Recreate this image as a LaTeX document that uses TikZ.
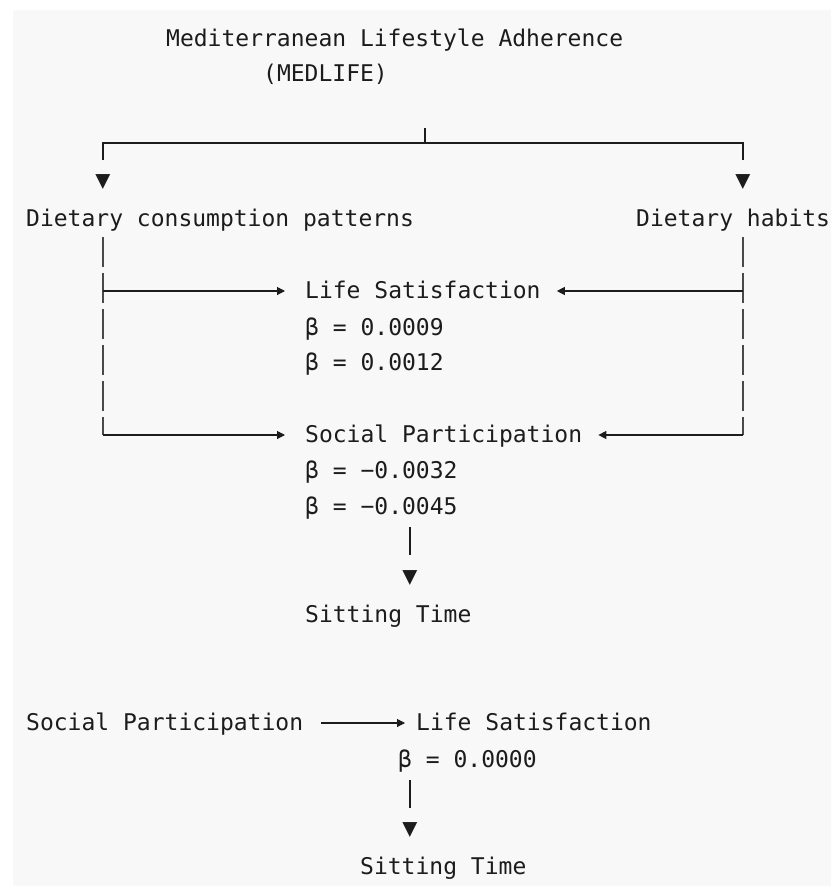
\documentclass[tikz,border=0pt]{standalone}
\usepackage{fontspec}
\setmonofont{DejaVu Sans Mono}
\usetikzlibrary{arrows.meta}
\usepackage{xcolor}
\definecolor{ink}{HTML}{1C1C1C}
\definecolor{paper}{HTML}{F8F8F8}

\begin{document}
\begin{tikzpicture}[x=1pt,y=-1pt,>={Triangle[length=8pt,width=8pt]},
  txt/.style={anchor=base west,inner sep=0pt,text=ink,
    font=\ttfamily\fontsize{23}{28}\selectfont,text height=18pt,text depth=4pt},
  tip/.style={inner sep=0pt,text=ink,font=\ttfamily\fontsize{25}{28}\selectfont},
  wire/.style={draw=ink,line width=1.1pt},
  rail/.style={draw=ink!80,line width=1.1pt,dash pattern=on 30pt off 6pt}]

  \fill[white] (0,0) rectangle (831,886);
  \fill[paper] (13,10) rectangle (831,886);
  \useasboundingbox (0,0) rectangle (831,886);

  \node[txt] (title) at (166,46) {Mediterranean Lifestyle Adherence};
  \node[txt] (medlife) at (263,81) {(MEDLIFE)};
  \node[txt] (DCP) at (26,226) {Dietary consumption patterns};
  \node[txt] (DH) at (636,226) {Dietary habits};
  \node[tip] (tipL) at (103,182) {▼};
  \node[tip] (tipR) at (743,182) {▼};
  \node[txt] (LS1) at (305,298) {Life Satisfaction};
  \node[txt] (b1) at (305,335) {β = 0.0009};
  \node[txt] (b2) at (305,370) {β = 0.0012};
  \node[txt] (SP1) at (305,442) {Social Participation};
  \node[txt] (b3) at (305,478) {β = −0.0032};
  \node[txt] (b4) at (305,514) {β = −0.0045};
  \node[tip] (tipM) at (410,578) {▼};
  \node[txt] (ST1) at (305,622) {Sitting Time};
  \node[txt] (SP2) at (26,730) {Social Participation};
  \node[txt] (LS2) at (416,730) {Life Satisfaction};
  \node[txt] (b5) at (398,767) {β = 0.0000};
  \node[tip] (tipB) at (410,830) {▼};
  \node[txt] (ST2) at (360,874) {Sitting Time};

  \coordinate (top) at (425,128);
  \coordinate (hub) at (425,143);
  \coordinate (cornerL) at (103,160);
  \coordinate (cornerR) at (743,160);
  \coordinate (trunkL) at (103,237);
  \coordinate (trunkR) at (743,237);

  \draw[wire] (top) -- (hub);
  \draw[wire] (cornerL) |- (hub) -| (cornerR);

  % dashed rails, one per side
  \draw[rail] (trunkL) -- (trunkL |- SP1.west);
  \draw[rail] (trunkR) -- (trunkR |- SP1.east);

  \draw[wire,->,shorten >=20pt] (trunkL |- LS1.west) -- (LS1.west);
  \draw[wire,->,shorten >=20pt] (trunkL |- SP1.west) -- (SP1.west);
  \draw[wire,->,shorten >=16pt] (trunkR |- LS1.east) -- (LS1.east);
  \draw[wire,->,shorten >=16pt] (trunkR |- SP1.east) -- (SP1.east);

  \draw[wire] (tipM |- 0,527) -- (tipM |- 0,555);

  \draw[wire,->,shorten <=18pt,shorten >=11pt] (SP2.east) -- (LS2.west);
  \draw[wire] (tipB |- 0,780) -- (tipB |- 0,808);

\end{tikzpicture}
\end{document}
